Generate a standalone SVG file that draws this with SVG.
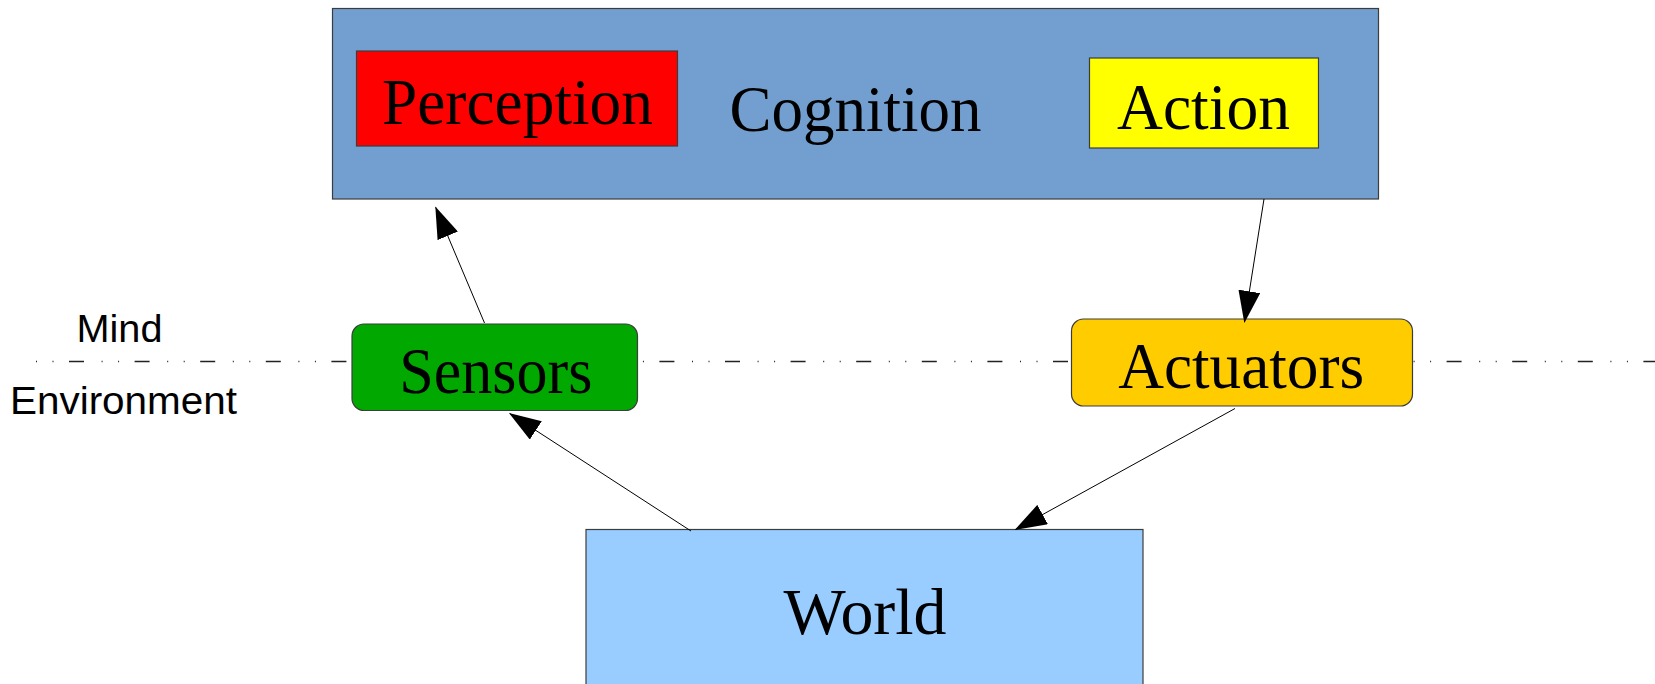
<svg xmlns="http://www.w3.org/2000/svg" width="1655" height="684" viewBox="0 0 1655 684">
  <style>
    .box { stroke: #3c3c3c; stroke-width: 1.2; }
    .lbl { font-family: "Liberation Serif", "Times New Roman", serif; font-size: 65px; fill: #000; text-anchor: middle; }
    .side { font-family: "Liberation Sans", Arial, sans-serif; font-size: 38px; fill: #000; }
    .edge { stroke: #000; stroke-width: 1; fill: none; marker-end: url(#arrow); }
    .divider { stroke: #222; stroke-width: 1.3; fill: none; stroke-dasharray: 1 15.5 1 15.5 15 17.6; }
  </style>
  <defs>
    <marker id="arrow" markerUnits="userSpaceOnUse" viewBox="0 0 32 22" markerWidth="32" markerHeight="22" refX="31" refY="11" orient="auto">
      <path d="M0,0 L32,11 L0,22 Z" fill="#000"/>
    </marker>
  </defs>
  <rect width="1655" height="684" fill="#fff"/>

  <!-- mind / environment boundary -->
  <g id="boundary">
    <line class="divider" x1="36" y1="361.5" x2="1655" y2="361.5"/>
    <text class="side" x="76.5" y="341.7" textLength="86" lengthAdjust="spacingAndGlyphs">Mind</text>
    <text class="side" x="10" y="414.3" textLength="227" lengthAdjust="spacingAndGlyphs">Environment</text>
  </g>

  <g id="cognition">
    <rect class="box" x="332.5" y="8.5" width="1046" height="190.5" fill="#729fcf"/>
    <text class="lbl" x="855.5" y="130.7" textLength="252" lengthAdjust="spacingAndGlyphs">Cognition</text>
  </g>

  <g id="perception">
    <rect class="box" x="356.5" y="51" width="321" height="95" fill="#ff0000"/>
    <text class="lbl" x="517.5" y="124" textLength="271" lengthAdjust="spacingAndGlyphs">Perception</text>
  </g>

  <g id="action">
    <rect class="box" x="1089.5" y="58" width="229" height="90" fill="#ffff00"/>
    <text class="lbl" x="1203.5" y="129.3" textLength="173" lengthAdjust="spacingAndGlyphs">Action</text>
  </g>

  <g id="sensors">
    <rect class="box" x="352" y="324" width="285.5" height="86.5" rx="12" ry="12" fill="#00a800"/>
    <text class="lbl" x="495.8" y="393.3" textLength="193" lengthAdjust="spacingAndGlyphs">Sensors</text>
  </g>

  <g id="actuators">
    <rect class="box" x="1071.5" y="319" width="341" height="87" rx="12" ry="12" fill="#ffcc00"/>
    <text class="lbl" x="1241.2" y="388.3" textLength="246" lengthAdjust="spacingAndGlyphs">Actuators</text>
  </g>

  <g id="world">
    <rect class="box" x="586" y="529.5" width="557" height="170" fill="#99ccff"/>
    <text class="lbl" x="865" y="634" textLength="163" lengthAdjust="spacingAndGlyphs">World</text>
  </g>

  <g id="connectors">
    <line class="edge" x1="484.5" y1="323" x2="435.7" y2="207.3"/>
    <line class="edge" x1="1264" y1="199" x2="1244.5" y2="322"/>
    <line class="edge" x1="691" y1="531" x2="509.8" y2="413.5"/>
    <line class="edge" x1="1235" y1="408.5" x2="1015.5" y2="529.5"/>
  </g>
</svg>
